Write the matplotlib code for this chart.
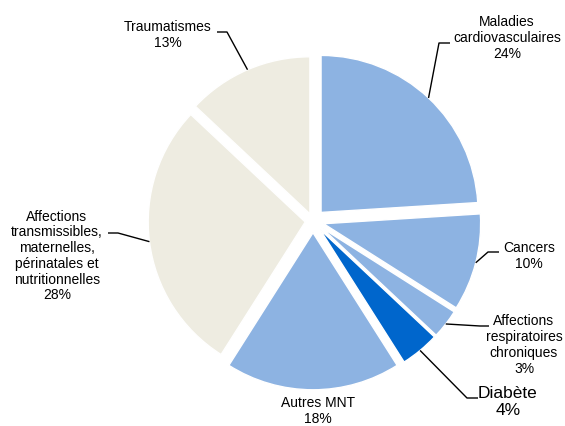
import matplotlib
matplotlib.use("Agg")
import matplotlib.pyplot as plt
import numpy as np

plt.rcParams['font.family'] = ['Liberation Sans', 'DejaVu Sans']

categories = ["Maladies\ncardiovasculaires", "Cancers", "Affections\nrespiratoires\nchroniques",
              "Diabète", "Autres MNT",
              "Affections\ntransmissibles,\nmaternelles,\npérinatales et\nnutritionnelles",
              "Traumatismes"]
values = [24, 10, 3, 4, 18, 28, 13]
colors = ["#8DB3E2", "#8DB3E2", "#8DB3E2", "#0066CC", "#8DB3E2", "#EEECE1", "#EEECE1"]
explode = [0.075, 0.07, 0.07, 0.07, 0.075, 0.05, 0.05]

# layout (pixel coordinates of the reference image)
CX, CY, R = 313, 221, 157
W, H = 565, 426

def p2d(px, py):
    return ((px - CX) / R, (CY - py) / R)

# text center, elbow, end of leader (pixels); None => no leader; font size
label_layout = [
    ((507, 38), (439, 43), (450, 43), 10),
    ((529, 256), (488, 252), (499, 252), 10),
    ((524, 345), (480, 326), (489, 326), 10),
    ((508, 402), (467, 398), (478, 398), 12.5),
    ((318, 411), None, None, 10),
    ((57, 256), (118, 233), (108, 233), 10),
    ((168, 35), (227, 32), (217, 32), 10),
]

fig = plt.figure(figsize=(W / 100, H / 100), dpi=100)
ax = fig.add_axes([0, 0, 1, 1])
wedges, _ = ax.pie(values, colors=colors, explode=explode, startangle=90, counterclock=False,
                   radius=1, wedgeprops=dict(edgecolor="white", linewidth=1.0))
ax.set_xlim(-CX / R, (W - CX) / R)
ax.set_ylim(-(H - CY) / R, CY / R)
ax.set_aspect('equal')
ax.axis('off')

for w, cat, v, (tc, elb, end, fs) in zip(wedges, categories, values, label_layout):
    tx, ty = p2d(*tc)
    ax.text(tx, ty, f"{cat}\n{v}%", ha='center', va='center', fontsize=fs,
            color='#000000', linespacing=1.1 if fs > 11 else 1.16)
    if elb is not None:
        ang = np.deg2rad((w.theta1 + w.theta2) / 2)
        cx, cy = w.center
        ax_ = cx + w.r * np.cos(ang)
        ay_ = cy + w.r * np.sin(ang)
        ex, ey = p2d(*elb)
        nx, ny = p2d(*end)
        ax.plot([ax_, ex, nx], [ay_, ey, ny], color='black', lw=1.0, solid_capstyle='butt')

fig.savefig("out.png", dpi=100)
